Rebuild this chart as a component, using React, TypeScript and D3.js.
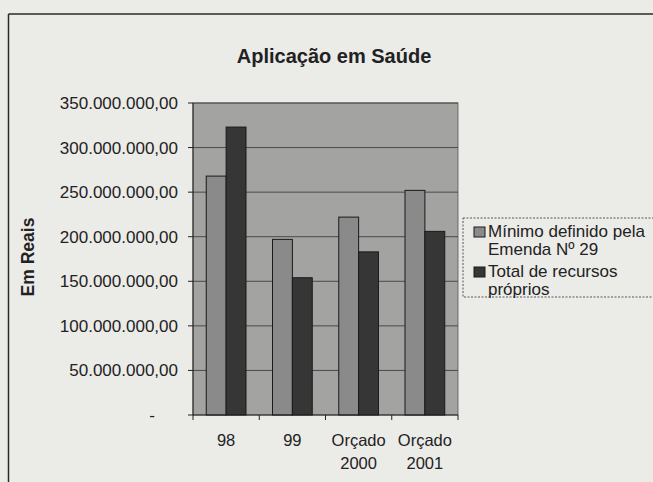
import React from "react";
import { scaleBand, scaleLinear } from "d3";

// values
const categories = ["98", "99", "Orçado 2000", "Orçado 2001"];
const minimoEmenda = [268000000, 197000000, 222000000, 252000000];
const totalRecursos = [323000000, 154000000, 183000000, 206000000];
const yTicks = [0, 50000000, 100000000, 150000000, 200000000, 250000000, 300000000, 350000000];
const seriesNames = [["Mínimo definido pela", "Emenda Nº 29"], ["Total de recursos", "próprios"]];
const seriesColors = ["#8a8a8a", "#363636"];

const W = 653;
const H = 482;
const plot = { left: 193, right: 458, top: 103, bottom: 415 };

// 350.000.000,00 style, zero shown as "-"
const fmt = (v: number) => {
  if (v === 0) return "-";
  const s = String(Math.round(v)).replace(/\B(?=(\d{3})+(?!\d))/g, ".");
  return s + ",00";
};

export default function App() {
  const x0 = scaleBand().domain(categories).range([plot.left, plot.right]).padding(0);
  const bw = x0.bandwidth();
  const groupW = bw * 0.6;
  const x1 = scaleBand()
    .domain(["0", "1"])
    .range([(bw - groupW) / 2, (bw + groupW) / 2])
    .padding(0);
  const y = scaleLinear().domain([0, 350000000]).range([plot.bottom, plot.top]);
  const series = [minimoEmenda, totalRecursos];

  return (
    <svg
      width={W}
      height={H}
      style={{ position: "absolute", left: 0, top: 0, background: "#ebebe8" }}
      fontFamily="Liberation Sans, Arial, sans-serif"
    >
      <rect x={0} y={0} width={W} height={H} fill="#ebebe8" />
      {/* chart frame */}
      <line x1={8.5} y1={14} x2={W} y2={14} stroke="#2a2a2a" strokeWidth={1.5} />
      <line x1={8.5} y1={14} x2={8.5} y2={H} stroke="#2a2a2a" strokeWidth={1.5} />

      <text x={334} y={63} textAnchor="middle" fontSize={20} fontWeight="bold" fill="#222">
        Aplicação em Saúde
      </text>

      {/* plot area */}
      <rect
        x={plot.left}
        y={plot.top}
        width={plot.right - plot.left}
        height={plot.bottom - plot.top}
        fill="#a3a3a1"
        stroke="#555"
        strokeWidth={0.8}
      />
      {yTicks.slice(1).map((t) => (
        <line key={"g" + t} x1={plot.left} x2={plot.right} y1={y(t)} y2={y(t)} stroke="#4a4a4a" strokeWidth={1} />
      ))}

      {categories.map((c, i) => (
        <g key={c} transform={`translate(${x0(c)},0)`}>
          {series.map((s, j) => (
            <rect
              key={j}
              x={x1(String(j))}
              y={y(s[i])}
              width={x1.bandwidth()}
              height={y(0) - y(s[i])}
              fill={seriesColors[j]}
              stroke="#1a1a1a"
              strokeWidth={1}
            />
          ))}
        </g>
      ))}

      {/* axes */}
      <line x1={plot.left} x2={plot.left} y1={plot.top} y2={plot.bottom} stroke="#222" strokeWidth={1} />
      <line x1={plot.left} x2={plot.right} y1={plot.bottom} y2={plot.bottom} stroke="#222" strokeWidth={1} />
      {yTicks.map((t) => (
        <g key={"t" + t}>
          <line x1={plot.left - 5} x2={plot.left} y1={y(t)} y2={y(t)} stroke="#222" />
          <text
            x={t === 0 ? 155 : 178}
            y={y(t)}
            dy="0.35em"
            textAnchor="end"
            fontSize={17}
            fill="#222"
          >
            {fmt(t)}
          </text>
        </g>
      ))}
      {categories.map((c) => (
        <line
          key={"xt" + c}
          x1={x0(c)}
          x2={x0(c)}
          y1={plot.bottom}
          y2={plot.bottom + 5}
          stroke="#222"
        />
      ))}
      <line x1={plot.right} x2={plot.right} y1={plot.bottom} y2={plot.bottom + 5} stroke="#222" />
      {categories.map((c) => (
        <text key={"xl" + c} x={x0(c)! + bw / 2} y={446} textAnchor="middle" fontSize={16.5} fill="#222">
          {c.split(" ").map((part, k) => (
            <tspan key={k} x={x0(c)! + bw / 2} dy={k === 0 ? 0 : 23}>
              {part}
            </tspan>
          ))}
        </text>
      ))}

      <text
        transform="translate(34,257) rotate(-90)"
        textAnchor="middle"
        fontSize={17.5}
        fontWeight="bold"
        fill="#222"
      >
        Em Reais
      </text>

      {/* legend */}
      <rect x={463} y={218} width={200} height={79} fill="none" stroke="#555" strokeWidth={1} strokeDasharray="2,1.5" />
      {seriesNames.map((lines, j) => (
        <g key={"lg" + j} transform={`translate(0,${j * 40})`}>
          <rect x={474} y={227} width={11} height={10} fill={seriesColors[j]} stroke="#1a1a1a" strokeWidth={1} />
          <text x={488} y={237} fontSize={17} fill="#222">
            {lines.map((l, k) => (
              <tspan key={k} x={488} dy={k === 0 ? 0 : 18}>
                {l}
              </tspan>
            ))}
          </text>
        </g>
      ))}
    </svg>
  );
}
